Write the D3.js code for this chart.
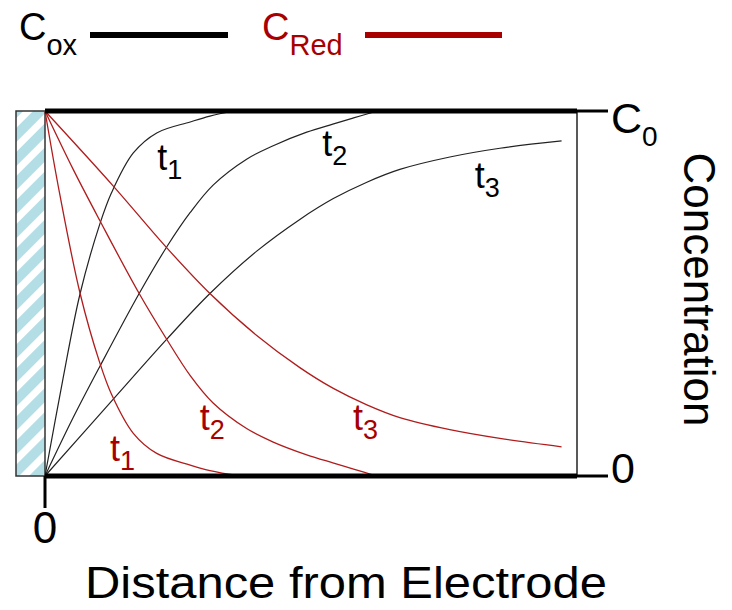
<!DOCTYPE html>
<html>
<head>
<meta charset="utf-8">
<script src="https://cdn.jsdelivr.net/npm/d3@7"></script>
<style>
  body { margin: 0; background: #fff; }
  svg { display: block; }
  text { font-family: "Liberation Sans", Arial, sans-serif; }
</style>
</head>
<body>
<svg id="chart" width="732" height="610"></svg>
<script>
// Concentration profiles next to a planar electrode.
// x: distance from the electrode surface (0–100), y: concentration as a fraction of C0.
const oxT1 = [[0,0],[3.3,0.26],[6.6,0.5],[10.3,0.69],[12.5,0.776],[16.6,0.885],[21,0.94],[27.3,0.97],[31,0.986],[35.5,1]];
const oxT2 = [[0,0],[5.3,0.16],[10.3,0.3],[17.7,0.5],[22.9,0.628],[27.3,0.722],[31.6,0.797],[37.9,0.868],[42.9,0.905],[49.2,0.942],[54.1,0.964],[58,0.981],[61.5,0.996]];
const oxT3 = [[0,0],[12.8,0.21],[22.9,0.375],[31,0.5],[39.8,0.616],[47.9,0.703],[54.2,0.76],[60.5,0.805],[66.7,0.84],[76.1,0.874],[85.5,0.898],[97.1,0.918]];

const redT1 = [[0,1],[2.8,0.77],[6.6,0.5],[10.3,0.31],[12.5,0.224],[16.6,0.117],[21,0.062],[27.3,0.03],[31,0.015],[36.7,0]];
const redT2 = [[0,1],[5.3,0.84],[10.3,0.7],[17.7,0.5],[22.9,0.374],[27.3,0.275],[31.6,0.2],[37.9,0.13],[42.9,0.093],[49.2,0.058],[54.1,0.036],[58,0.019],[62.3,0]];
const redT3 = [[0,1],[12.8,0.795],[22.9,0.625],[31,0.5],[39.8,0.385],[47.9,0.297],[54.2,0.24],[60.5,0.195],[66.7,0.16],[76.1,0.127],[85.5,0.103],[97.1,0.08]];

// label anchors (distance, concentration) and subscripts
const oxLabels  = [{x:21.1, y:0.838, sub:"1"}, {x:52.1, y:0.877, sub:"2"}, {x:80.8, y:0.789, sub:"3"}];
const redLabels = [{x:12.2, y:0.041, sub:"1"}, {x:29.1, y:0.126, sub:"2"}, {x:57.9, y:0.126, sub:"3"}];

const BLACK = "#000";
const CURVE_BLACK = "#222";
const RED = "#a80000";
const CURVE_RED = "#b01c1c";

const svg = d3.select("#chart");
const x = d3.scaleLinear().domain([0, 100]).range([45, 577]);
const y = d3.scaleLinear().domain([0, 1]).range([476, 111]);

// hatched electrode
const defs = svg.append("defs");
const pat = defs.append("pattern")
  .attr("id", "hatch").attr("patternUnits", "userSpaceOnUse")
  .attr("width", 17).attr("height", 17)
  .attr("patternTransform", "rotate(45)");
pat.append("rect").attr("width", 17).attr("height", 17).attr("fill", "#fff");
pat.append("rect").attr("width", 10).attr("height", 17).attr("fill", "#b4dee6");

svg.append("rect")
  .attr("x", 16).attr("y", y(1))
  .attr("width", x(0) - 16).attr("height", y(0) - y(1))
  .attr("fill", "url(#hatch)").attr("stroke", "#333").attr("stroke-width", 1.5);

// right frame edge
svg.append("line")
  .attr("x1", x(100)).attr("x2", x(100)).attr("y1", y(1)).attr("y2", y(0))
  .attr("stroke", "#222").attr("stroke-width", 1.5);

// curves
const line = d3.line().x(d => x(d[0])).y(d => y(d[1])).curve(d3.curveCatmullRom.alpha(0.5));
[oxT1, oxT2, oxT3].forEach(s => svg.append("path").attr("d", line(s))
  .attr("fill", "none").attr("stroke", CURVE_BLACK).attr("stroke-width", 1.2));
[redT1, redT2, redT3].forEach(s => svg.append("path").attr("d", line(s))
  .attr("fill", "none").attr("stroke", CURVE_RED).attr("stroke-width", 1.3));

// C0 and 0 levels: thick bounds plus thin ticks out to the labels
[1, 0].forEach(v => {
  svg.append("line").attr("x1", x(0)).attr("x2", x(100)).attr("y1", y(v)).attr("y2", y(v))
    .attr("stroke", BLACK).attr("stroke-width", 5);
  svg.append("line").attr("x1", x(100)).attr("x2", x(100) + 31).attr("y1", y(v)).attr("y2", y(v))
    .attr("stroke", BLACK).attr("stroke-width", 3);
});

// tick under the electrode surface
svg.append("line").attr("x1", x(0)).attr("x2", x(0)).attr("y1", y(0)).attr("y2", y(0) + 32)
  .attr("stroke", BLACK).attr("stroke-width", 3);
svg.append("text").attr("x", x(0)).attr("y", y(0) + 67).attr("text-anchor", "middle")
  .attr("font-size", 44).attr("fill", BLACK).text("0");

// right-hand labels
const c0 = svg.append("text").attr("x", x(100) + 34).attr("y", y(1) + 22).attr("font-size", 43).attr("fill", BLACK);
c0.append("tspan").text("C");
c0.append("tspan").attr("dy", 13).attr("font-size", 28).text("0");
svg.append("text").attr("x", x(100) + 34).attr("y", y(0) + 7).attr("font-size", 43).attr("fill", BLACK).text("0");

svg.append("text")
  .attr("transform", `translate(684, ${(y(0) + y(1)) / 2 - 4}) rotate(90)`)
  .attr("text-anchor", "middle").attr("font-size", 44).attr("fill", BLACK)
  .text("Concentration");

svg.append("text").attr("x", 85).attr("y", 598).attr("font-size", 44).attr("fill", BLACK)
  .attr("textLength", 522).attr("lengthAdjust", "spacingAndGlyphs")
  .text("Distance from Electrode");

// time labels
function tLabel(d, color) {
  const t = svg.append("text").attr("x", x(d.x)).attr("y", y(d.y)).attr("font-size", 36).attr("fill", color);
  t.append("tspan").text("t");
  t.append("tspan").attr("dy", 9).attr("font-size", 27).text(d.sub);
}
oxLabels.forEach(d => tLabel(d, BLACK));
redLabels.forEach(d => tLabel(d, RED));

// legend
const legend = [
  {name: "C", sub: "ox", color: BLACK, tx: 19, lx: [90, 228]},
  {name: "C", sub: "Red", color: RED, tx: 262, lx: [365, 502]}
];
legend.forEach(l => {
  const t = svg.append("text").attr("x", l.tx).attr("y", 40).attr("font-size", 38).attr("fill", l.color);
  t.append("tspan").text(l.name);
  t.append("tspan").attr("dy", 15).attr("font-size", 29).text(l.sub);
  svg.append("line").attr("x1", l.lx[0]).attr("x2", l.lx[1]).attr("y1", 35).attr("y2", 35)
    .attr("stroke", l.color).attr("stroke-width", 6);
});
</script>
</body>
</html>
